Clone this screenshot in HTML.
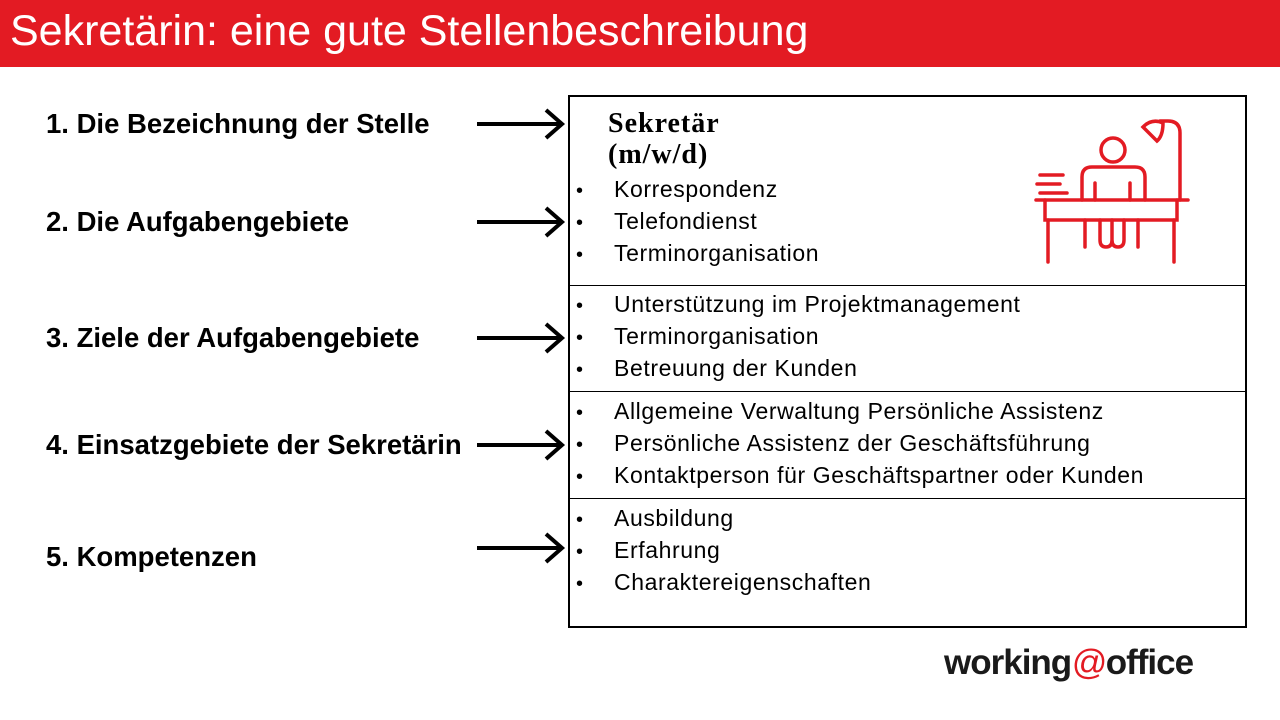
<!DOCTYPE html>
<html><head><meta charset="utf-8"><style>
body{margin:0;width:1280px;height:720px;background:#fff;position:relative;overflow:hidden;font-family:"Liberation Sans",sans-serif;}
.hdr{position:absolute;left:0;top:0;width:1280px;height:67px;background:#e31b23;}
.hdr div{position:absolute;left:10px;top:7px;color:#fff;font-size:43px;}
.lbl{position:absolute;left:46px;font-size:27.5px;font-weight:bold;color:#000;}
.box{position:absolute;left:568px;top:95px;width:675px;height:529px;border:2px solid #000;}
.hl{position:absolute;left:570px;width:675px;height:1px;background:#000;}
.it{position:absolute;left:614px;font-size:23px;letter-spacing:0.6px;color:#000;}
.bu{position:absolute;left:576px;font-size:20px;margin-top:5px;}
</style></head><body>
<div class="hdr"><div>Sekretärin: eine gute Stellenbeschreibung</div></div>
<div class="lbl" style="top:108px">1. Die Bezeichnung der Stelle</div>
<div class="lbl" style="top:206px">2. Die Aufgabengebiete</div>
<div class="lbl" style="top:322px">3. Ziele der Aufgabengebiete</div>
<div class="lbl" style="top:429px">4. Einsatzgebiete der Sekretärin</div>
<div class="lbl" style="top:541px">5. Kompetenzen</div>
<svg width="1280" height="720" style="position:absolute;left:0;top:0">
<g stroke="#000" stroke-width="4" fill="none">
<path d="M477 124H560M546 110L562 124L546 138"/>
<path d="M477 222H560M546 208L562 222L546 236"/>
<path d="M477 338H560M546 324L562 338L546 352"/>
<path d="M477 445H560M546 431L562 445L546 459"/>
<path d="M477 548H560M546 534L562 548L546 562"/>
</g>
<g stroke="#e31b23" stroke-width="3.5" fill="none" stroke-linecap="round">
<circle cx="1113" cy="150" r="12"/>
<path d="M1082 200V177Q1082 167 1092 167H1135Q1145 167 1145 177V200"/>
<path d="M1095 183V200M1130 183V200"/>
<path d="M1036 200H1188"/>
<path d="M1045 200V220H1177V200"/>
<path d="M1048 220V262M1174 220V262"/>
<path d="M1085 220V247M1138 220V247"/>
<path d="M1100 220V240Q1100 247 1106 247Q1112 247 1112 240V220M1112 240Q1112 247 1118 247Q1124 247 1124 240V220"/>
<path d="M1040 175H1063M1037 184H1060M1040 193H1067"/>
<path d="M1180 200V133Q1180 121 1168 121H1160"/>
<path d="M1143 127Q1152 118 1163 123Q1163 136 1157 141Z"/>
</g>
</svg>
<div class="box"></div>
<div class="hl" style="top:285px"></div>
<div class="hl" style="top:391px"></div>
<div class="hl" style="top:498px"></div>
<div style="position:absolute;left:608px;top:108px;font-family:'Liberation Serif',serif;font-weight:bold;font-size:28px;letter-spacing:1px;line-height:31px">Sekretär<br>(m/w/d)</div>
<div class="bu" style="top:175px">•</div><div class="it" style="top:176px">Korrespondenz</div>
<div class="bu" style="top:207px">•</div><div class="it" style="top:208px">Telefondienst</div>
<div class="bu" style="top:239px">•</div><div class="it" style="top:240px">Terminorganisation</div>
<div class="bu" style="top:290px">•</div><div class="it" style="top:291px">Unterstützung im Projektmanagement</div>
<div class="bu" style="top:322px">•</div><div class="it" style="top:323px">Terminorganisation</div>
<div class="bu" style="top:354px">•</div><div class="it" style="top:355px">Betreuung der Kunden</div>
<div class="bu" style="top:397px">•</div><div class="it" style="top:398px">Allgemeine Verwaltung Persönliche Assistenz</div>
<div class="bu" style="top:429px">•</div><div class="it" style="top:430px">Persönliche Assistenz der Geschäftsführung</div>
<div class="bu" style="top:461px">•</div><div class="it" style="top:462px">Kontaktperson für Geschäftspartner oder Kunden</div>
<div class="bu" style="top:504px">•</div><div class="it" style="top:505px">Ausbildung</div>
<div class="bu" style="top:536px">•</div><div class="it" style="top:537px">Erfahrung</div>
<div class="bu" style="top:568px">•</div><div class="it" style="top:569px">Charaktereigenschaften</div>
<div style="position:absolute;left:944px;top:643px;font-size:35px;font-weight:bold;color:#1a1a1a;letter-spacing:-1px">working<span style="color:#e31b23;font-weight:normal;font-style:italic">@</span>office</div>
</body></html>
